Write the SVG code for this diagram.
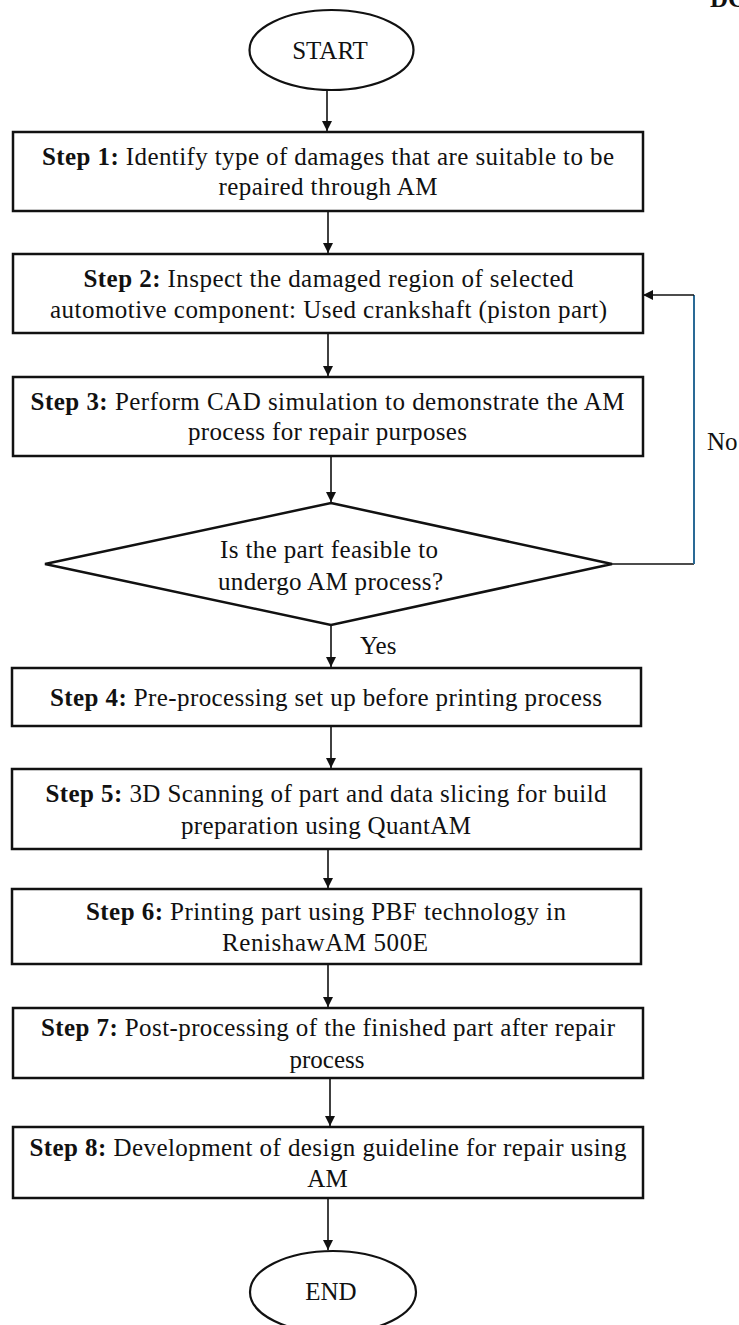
<svg xmlns="http://www.w3.org/2000/svg" width="739" height="1325" viewBox="0 0 739 1325">
  <style>
    text { font-family: "Liberation Serif", "Times New Roman", serif; font-size: 25px; fill: #111; }
    .c { text-anchor: middle; }
    .b { font-weight: bold; }
    .box { fill: #fff; stroke: #111; stroke-width: 2.5; }
    .term { fill: #fff; stroke: #111; stroke-width: 2.2; }
    .flow { fill: none; stroke: #111; stroke-width: 1.6; }
    .loop { fill: none; stroke: #2a6a96; stroke-width: 2; }
  </style>
  <defs>
    <marker id="arrow" viewBox="0 0 10 10" refX="10" refY="5" markerWidth="10" markerHeight="10" markerUnits="userSpaceOnUse" orient="auto">
      <path d="M0,0 L10,5 L0,10 z" fill="#111"/>
    </marker>
  </defs>

  <rect width="739" height="1325" fill="#fff"/>

  <text class="b" x="710" y="7">DC</text>

  <!-- connectors -->
  <g id="connectors">
    <line class="flow" x1="327" y1="90" x2="327" y2="131" marker-end="url(#arrow)"/>
    <line class="flow" x1="328" y1="212" x2="328" y2="253" marker-end="url(#arrow)"/>
    <line class="flow" x1="328" y1="334" x2="328" y2="376" marker-end="url(#arrow)"/>
    <line class="flow" x1="331" y1="457" x2="331" y2="502" marker-end="url(#arrow)"/>
    <line class="flow" x1="331" y1="626" x2="331" y2="667" marker-end="url(#arrow)"/>
    <line class="flow" x1="331" y1="727" x2="331" y2="768" marker-end="url(#arrow)"/>
    <line class="flow" x1="328" y1="850" x2="328" y2="888" marker-end="url(#arrow)"/>
    <line class="flow" x1="328" y1="965" x2="328" y2="1007" marker-end="url(#arrow)"/>
    <line class="flow" x1="330" y1="1079" x2="330" y2="1126" marker-end="url(#arrow)"/>
    <line class="flow" x1="328" y1="1199" x2="328" y2="1250" marker-end="url(#arrow)"/>
    <!-- "No" branch back to step 2 -->
    <line class="flow" x1="612" y1="564" x2="694" y2="564"/>
    <line class="loop" x1="694" y1="564" x2="694" y2="295"/>
    <line class="flow" x1="694" y1="295" x2="643" y2="295" marker-end="url(#arrow)"/>
    <text x="707" y="450">No</text>
    <text x="360" y="654">Yes</text>
  </g>

  <g id="start">
    <ellipse class="term" cx="331.5" cy="50" rx="82" ry="40"/>
    <text class="c" x="330" y="59">START</text>
  </g>

  <g id="step1">
    <rect class="box" x="13" y="132" width="630" height="79"/>
    <text class="c" x="328" y="165" textLength="572"><tspan class="b">Step 1:</tspan> Identify type of damages that are suitable to be</text>
    <text class="c" x="328" y="195" textLength="219">repaired through AM</text>
  </g>

  <g id="step2">
    <rect class="box" x="13" y="254" width="630" height="79"/>
    <text class="c" x="328.5" y="287" textLength="490"><tspan class="b">Step 2:</tspan> Inspect the damaged region of selected</text>
    <text class="c" x="328.5" y="318" textLength="557">automotive component: Used crankshaft (piston part)</text>
  </g>

  <g id="step3">
    <rect class="box" x="13" y="377" width="630" height="79"/>
    <text class="c" x="327.5" y="410" textLength="594"><tspan class="b">Step 3:</tspan> Perform CAD simulation to demonstrate the AM</text>
    <text class="c" x="327.5" y="440" textLength="279">process for repair purposes</text>
  </g>

  <g id="decision">
    <polygon class="box" points="331,503 612,564 331,625 45,564"/>
    <text class="c" x="329" y="558" textLength="218">Is the part feasible to</text>
    <text class="c" x="330.5" y="590" textLength="225">undergo AM process?</text>
  </g>

  <g id="step4">
    <rect class="box" x="12" y="668" width="629" height="58"/>
    <text class="c" x="326" y="706" textLength="552"><tspan class="b">Step 4:</tspan> Pre-processing set up before printing process</text>
  </g>

  <g id="step5">
    <rect class="box" x="12" y="769" width="629" height="80"/>
    <text class="c" x="326" y="802" textLength="561"><tspan class="b">Step 5:</tspan> 3D Scanning of part and data slicing for build</text>
    <text class="c" x="326" y="834" textLength="290">preparation using QuantAM</text>
  </g>

  <g id="step6">
    <rect class="box" x="12" y="889" width="629" height="75"/>
    <text class="c" x="326" y="920" textLength="480"><tspan class="b">Step 6:</tspan> Printing part using PBF technology in</text>
    <text class="c" x="325" y="951" textLength="206">RenishawAM 500E</text>
  </g>

  <g id="step7">
    <rect class="box" x="13" y="1008" width="630" height="70"/>
    <text class="c" x="328" y="1036" textLength="574"><tspan class="b">Step 7:</tspan> Post-processing of the finished part after repair</text>
    <text class="c" x="327" y="1068">process</text>
  </g>

  <g id="step8">
    <rect class="box" x="13" y="1127" width="630" height="71"/>
    <text class="c" x="328" y="1156" textLength="597"><tspan class="b">Step 8:</tspan> Development of design guideline for repair using</text>
    <text class="c" x="327.5" y="1187">AM</text>
  </g>

  <g id="end">
    <ellipse class="term" cx="333" cy="1292" rx="83" ry="41"/>
    <text class="c" x="331" y="1300">END</text>
  </g>
</svg>
